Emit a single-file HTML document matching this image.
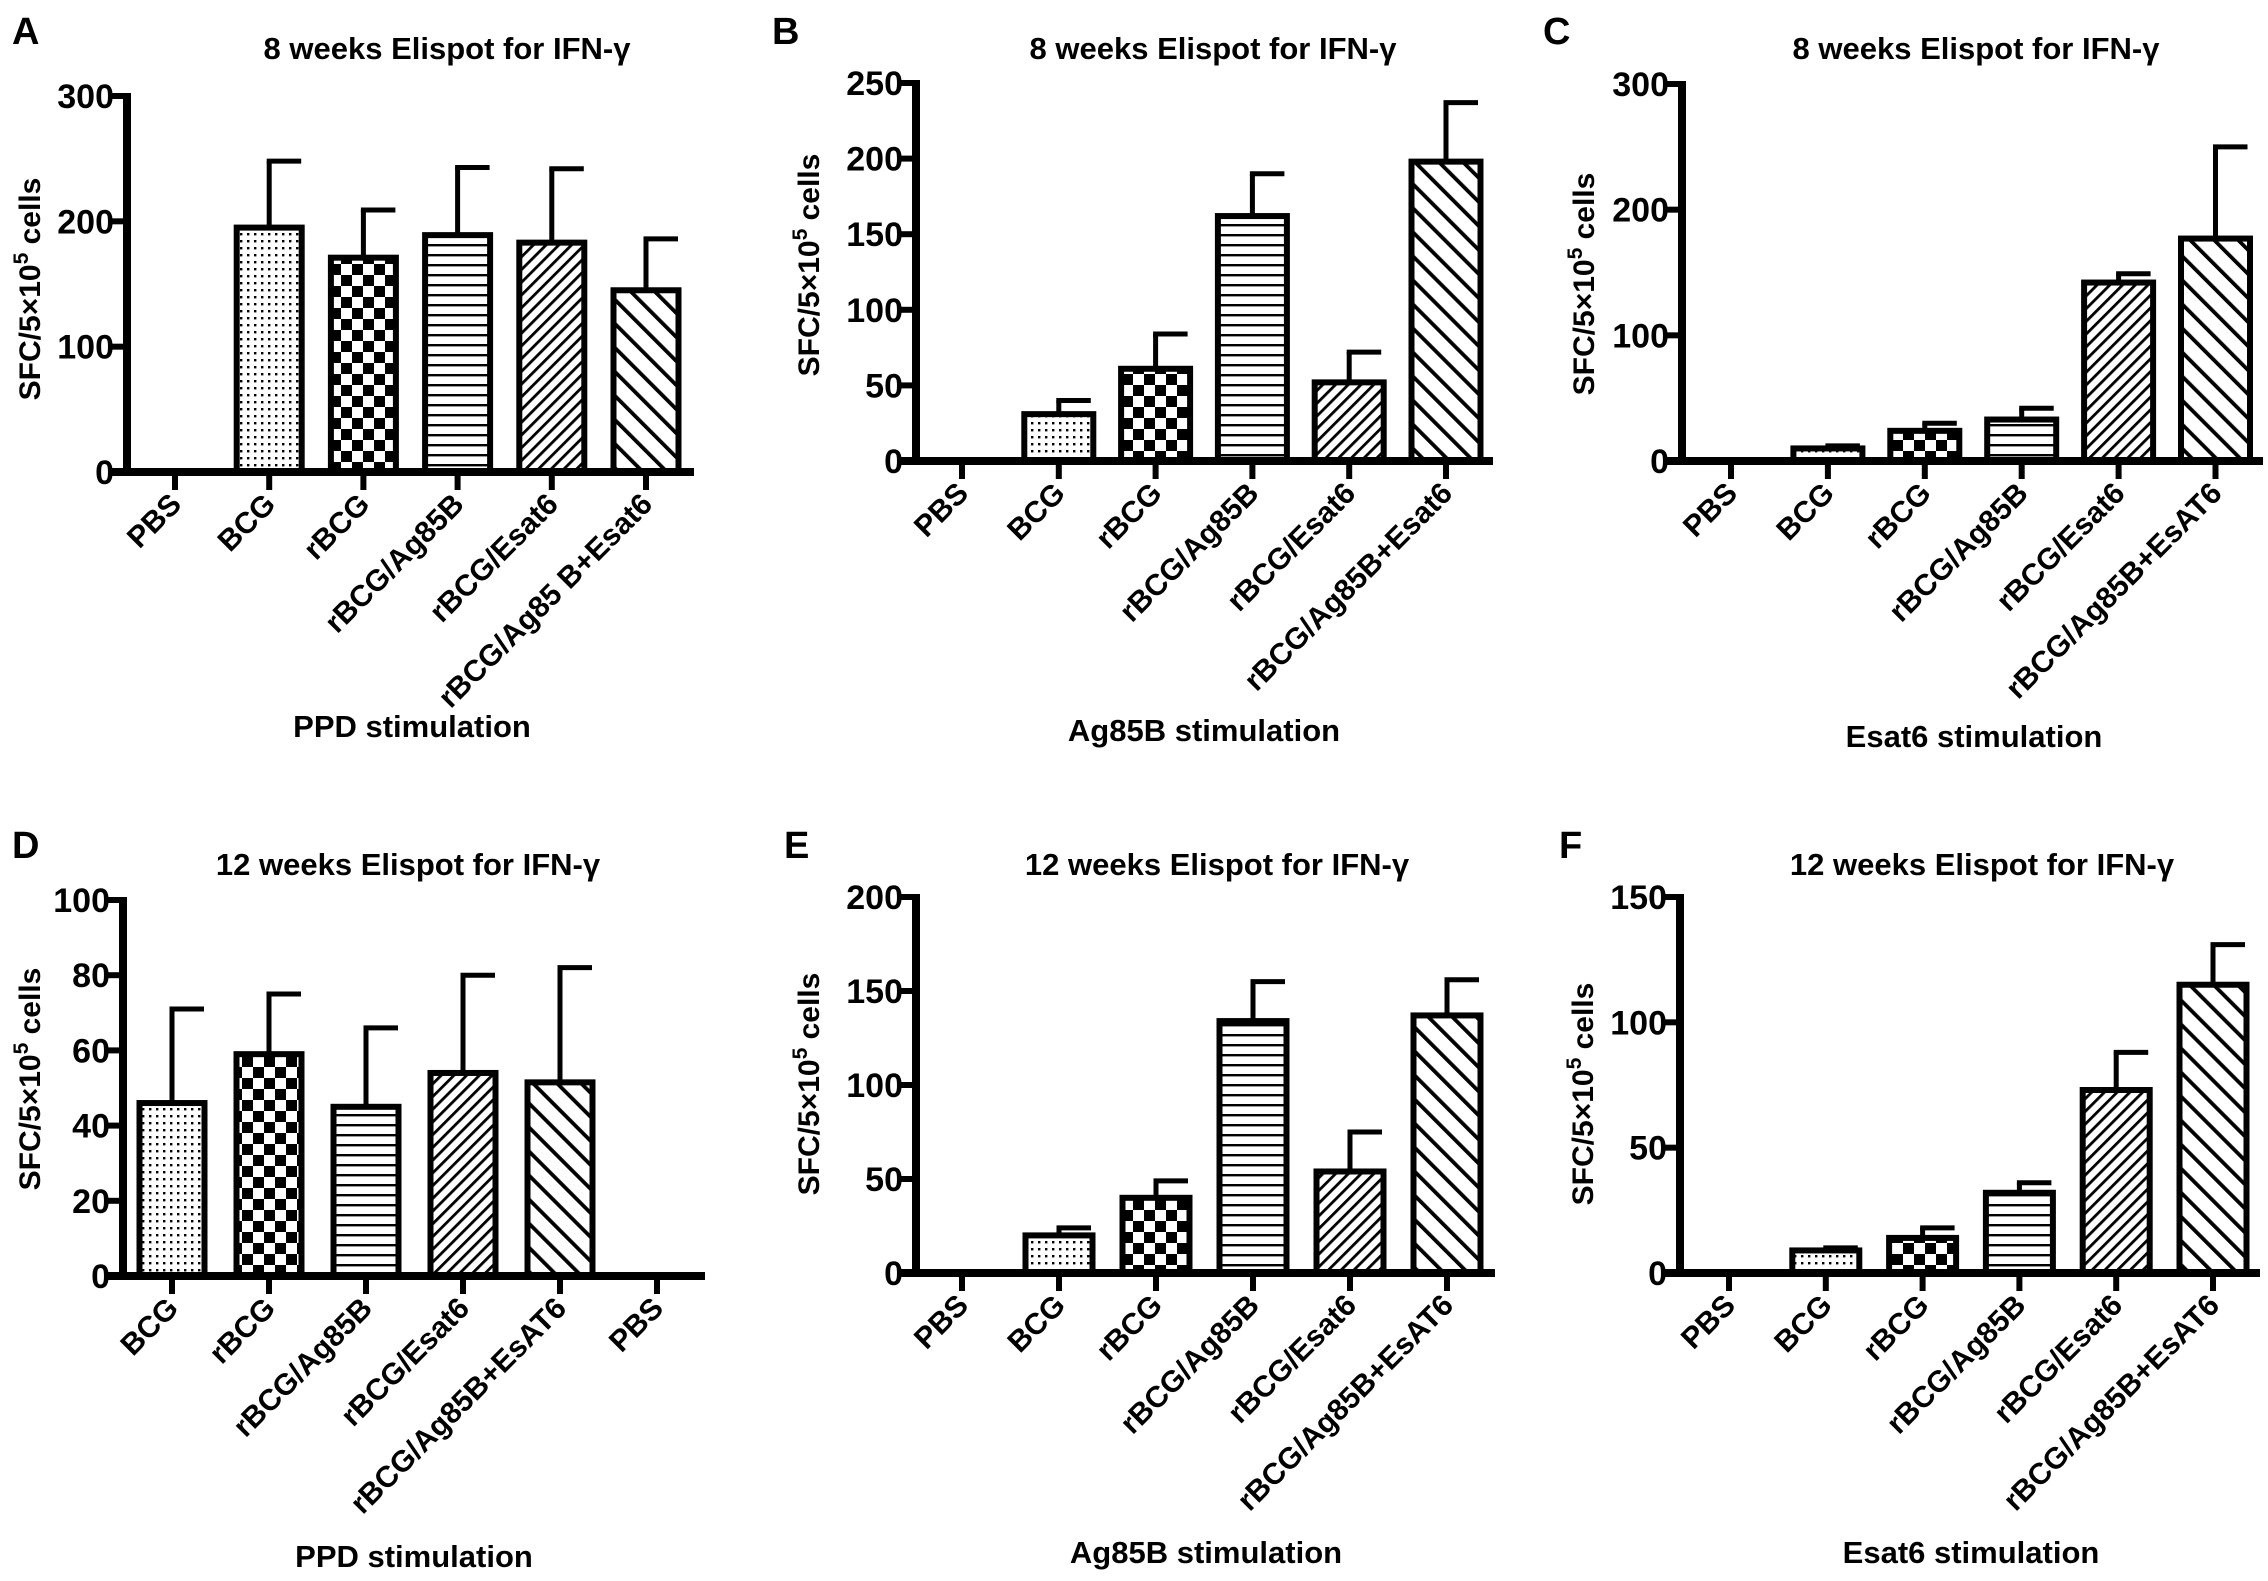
<!DOCTYPE html>
<html><head><meta charset="utf-8"><style>
html,body{margin:0;padding:0;background:#fff;}
svg{display:block;font-family:"Liberation Sans",Arial,sans-serif;font-weight:bold;}
</style></head><body>
<svg id="fig" width="2268" height="1581" viewBox="0 0 2268 1581" xmlns="http://www.w3.org/2000/svg">
<defs>
<pattern id="p-dots" width="7" height="7" patternUnits="userSpaceOnUse"><rect width="7" height="7" fill="#fff"/><rect x="2" y="2" width="2.4" height="2.4" fill="#000"/></pattern>
<pattern id="p-check" width="22" height="22" patternUnits="userSpaceOnUse"><rect width="22" height="22" fill="#fff"/><rect width="11" height="11" fill="#000"/><rect x="11" y="11" width="11" height="11" fill="#000"/></pattern>
<pattern id="p-hlines" width="10" height="10" patternUnits="userSpaceOnUse"><rect width="10" height="10" fill="#fff"/><rect y="4" width="10" height="2.4" fill="#000"/></pattern>
<pattern id="p-fdiag" width="9" height="9" patternUnits="userSpaceOnUse" patternTransform="rotate(45)"><rect width="9" height="9" fill="#fff"/><rect x="0" width="2.8" height="9" fill="#000"/></pattern>
<pattern id="p-bdiag" width="17" height="17" patternUnits="userSpaceOnUse" patternTransform="rotate(-45)"><rect width="17" height="17" fill="#fff"/><rect x="0" width="3.8" height="17" fill="#000"/></pattern>
</defs>
</svg>
<script>
// ---- data ----
const catsA = ["PBS","BCG","rBCG","rBCG/Ag85B","rBCG/Esat6","rBCG/Ag85 B+Esat6"];
const valsA = [0,195,171,189,183,145];
const errsA = [0,248,209,243,242,186];
const ticksA = [0,100,200,300];

const catsB = ["PBS","BCG","rBCG","rBCG/Ag85B","rBCG/Esat6","rBCG/Ag85B+Esat6"];
const valsB = [0,31,61,162,52,198];
const errsB = [0,40,84,190,72,237];
const ticksB = [0,50,100,150,200,250];

const catsC = ["PBS","BCG","rBCG","rBCG/Ag85B","rBCG/Esat6","rBCG/Ag85B+EsAT6"];
const valsC = [0,10,24,33,142,177];
const errsC = [0,12,30,42,149,250];
const ticksC = [0,100,200,300];

const catsD = ["BCG","rBCG","rBCG/Ag85B","rBCG/Esat6","rBCG/Ag85B+EsAT6","PBS"];
const valsD = [46,59,45,54,51.5,0];
const errsD = [71,75,66,80,82,0];
const ticksD = [0,20,40,60,80,100];

const catsE = ["PBS","BCG","rBCG","rBCG/Ag85B","rBCG/Esat6","rBCG/Ag85B+EsAT6"];
const valsE = [0,20,40,134,54,137];
const errsE = [0,24,49,155,75,156];
const ticksE = [0,50,100,150,200];

const catsF = ["PBS","BCG","rBCG","rBCG/Ag85B","rBCG/Esat6","rBCG/Ag85B+EsAT6"];
const valsF = [0,9,14,32,73,115];
const errsF = [0,10,18,36,88,131];
const ticksF = [0,50,100,150];

const fillsABC = ["none","url(#p-dots)","url(#p-check)","url(#p-hlines)","url(#p-fdiag)","url(#p-bdiag)"];
const fillsD = ["url(#p-dots)","url(#p-check)","url(#p-hlines)","url(#p-fdiag)","url(#p-bdiag)","none"];

const NS="http://www.w3.org/2000/svg";
const svg=document.getElementById('fig');
function mk(tag,attrs,parent){const e=document.createElementNS(NS,tag);for(const k in attrs)e.setAttribute(k,attrs[k]);(parent||svg).appendChild(e);return e;}

function panel(cfg){
  const g=mk('g',{});
  
  
  const maxV=cfg.ticks[cfg.ticks.length-1];
  const y=v=>cfg.y0-(v/maxV)*(cfg.y0-cfg.yTop);
  const x=i=>cfg.tick0+i*cfg.step;
  const L=mk('text',{x:cfg.lx,y:cfg.ly,'font-size':38,'text-anchor':'start'},g);L.textContent=cfg.letter;
  
  
  const T=mk('text',{x:cfg.tx,y:cfg.ty,'font-size':31,'text-anchor':'middle'},g);T.textContent=cfg.title;
  
  
  cfg.vals.forEach((v,i)=>{
    if(v<=0)return;
    const cx=x(i);
    const e=mk('line',{x1:cx,x2:cx,y1:y(v),y2:y(cfg.errs[i]),stroke:'#000','stroke-width':5},g);
    
    
    const c=mk('line',{x1:cx-2.5,x2:cx+32,y1:y(cfg.errs[i]),y2:y(cfg.errs[i]),stroke:'#000','stroke-width':5},g);
    
    
    const r=mk('rect',{x:cx-cfg.bw/2,y:y(v),width:cfg.bw,height:cfg.y0-y(v),fill:cfg.fills[i],stroke:'#000','stroke-width':6},g);
    
    
  });
  const ya=mk('line',{x1:cfg.ax,x2:cfg.ax,y1:cfg.yTop-3,y2:cfg.y0+4,stroke:'#000','stroke-width':8},g);
  
  
  cfg.ticks.forEach(t=>{
    mk('line',{x1:cfg.ax-15,x2:cfg.ax,y1:y(t),y2:y(t),stroke:'#000','stroke-width':6},g);
    const tl=mk('text',{x:cfg.ax-13,y:y(t)+12,'font-size':34,'text-anchor':'end'},g);tl.textContent=t;
    
    
  });
  const xa=mk('line',{x1:cfg.ax-15,x2:cfg.xEnd,y1:cfg.y0,y2:cfg.y0,stroke:'#000','stroke-width':8},g);
  
  
  cfg.cats.forEach((c,i)=>{
    mk('line',{x1:x(i),x2:x(i),y1:cfg.y0,y2:cfg.y0+18,stroke:'#000','stroke-width':6},g);
    const tx=x(i)+8, ty=cfg.y0+34;
    const tl=mk('text',{x:tx,y:ty,'font-size':30,'text-anchor':'end',transform:`rotate(-45 ${tx} ${ty})`},g);tl.textContent=c;
    
    
  });
  const yl=mk('text',{x:0,y:0,'font-size':30,'text-anchor':'middle',transform:`translate(${cfg.ylx},${cfg.yly}) rotate(-90)`},g);
  yl.innerHTML='SFC/5×10<tspan dy="-12" font-size="21">5</tspan><tspan dy="12"> cells</tspan>';
  
  
  const xt=mk('text',{x:cfg.xtx,y:cfg.xty,'font-size':31,'text-anchor':'middle'},g);xt.textContent=cfg.xtitle;
  
  
}

const T8="8  weeks Elispot for IFN-γ", T12="12  weeks Elispot for IFN-γ";
panel({letter:'A',lx:12,ly:44,title:T8,tx:447,ty:59,ax:127,yTop:96,y0:472,xEnd:694,tick0:175,step:94.2,bw:65,
  cats:catsA,vals:valsA,errs:errsA,ticks:ticksA,fills:fillsABC,ylx:40,yly:289,xtitle:'PPD stimulation',xtx:412,xty:737});
panel({letter:'B',lx:772,ly:44,title:T8,tx:1213,ty:59,ax:916,yTop:83,y0:461,xEnd:1493,tick0:962,step:96.8,bw:69,
  cats:catsB,vals:valsB,errs:errsB,ticks:ticksB,fills:fillsABC,ylx:819,yly:265,xtitle:'Ag85B stimulation',xtx:1204,xty:741});
panel({letter:'C',lx:1543,ly:44,title:T8,tx:1976,ty:59,ax:1682,yTop:84,y0:461,xEnd:2263,tick0:1731,step:96.9,bw:69,
  cats:catsC,vals:valsC,errs:errsC,ticks:ticksC,fills:fillsABC,ylx:1594,yly:284,xtitle:'Esat6 stimulation',xtx:1974,xty:747});
panel({letter:'D',lx:12,ly:858,title:T12,tx:408,ty:875,ax:123,yTop:900,y0:1276,xEnd:705,tick0:172,step:97,bw:65,
  cats:catsD,vals:valsD,errs:errsD,ticks:ticksD,fills:fillsD,ylx:40,yly:1079,xtitle:'PPD stimulation',xtx:414,xty:1567});
panel({letter:'E',lx:784,ly:858,title:T12,tx:1217,ty:875,ax:916,yTop:897,y0:1273,xEnd:1495,tick0:962,step:97,bw:67,
  cats:catsE,vals:valsE,errs:errsE,ticks:ticksE,fills:fillsABC,ylx:819,yly:1084,xtitle:'Ag85B stimulation',xtx:1206,xty:1563});
panel({letter:'F',lx:1559,ly:858,title:T12,tx:1982,ty:875,ax:1680,yTop:897,y0:1273,xEnd:2260,tick0:1729,step:96.8,bw:67,
  cats:catsF,vals:valsF,errs:errsF,ticks:ticksF,fills:fillsABC,ylx:1593,yly:1094,xtitle:'Esat6 stimulation',xtx:1971,xty:1563});
</script>
</body></html>
